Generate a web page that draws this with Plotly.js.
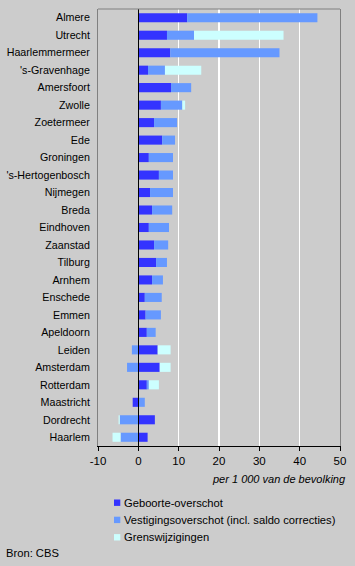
<!DOCTYPE html>
<html>
<head>
<meta charset="utf-8">
<script src="https://cdn.plot.ly/plotly-3.0.1.min.js"></script>
<style>
html,body{margin:0;padding:0;background:#cccccc;}
#chart{width:355px;height:566px;}
</style>
</head>
<body>
<div id="chart"></div>
<script>
const gemeenten = ["Almere","Utrecht","Haarlemmermeer","'s-Gravenhage","Amersfoort","Zwolle","Zoetermeer","Ede","Groningen","'s-Hertogenbosch","Nijmegen","Breda","Eindhoven","Zaanstad","Tilburg","Arnhem","Enschede","Emmen","Apeldoorn","Leiden","Amsterdam","Rotterdam","Maastricht","Dordrecht","Haarlem"];
const geboorteOverschot = [12.1,7.1,7.9,2.4,8.1,5.6,3.9,5.9,2.6,5.1,2.9,3.4,2.6,3.9,4.4,3.4,1.6,1.8,2.1,4.8,5.3,2.1,-1.4,4.1,2.3];
const vestigingsOverschot = [32.3,6.7,27.1,4.2,5.0,5.3,5.7,3.2,6.0,3.5,5.7,5.0,5.0,3.5,2.7,2.7,4.2,3.8,2.2,-1.6,-2.8,0.5,1.6,-4.6,-4.4];
const grensWijzigingen = [0,22.2,0,9.0,0,0.7,0,0,0,0,0,0,0,0,0,0,0,0,0,3.2,2.7,2.5,0,-0.3,-2.0];
const seriesNames = ["Geboorte-overschot","Vestigingsoverschot (incl. saldo correcties)","Grenswijzigingen"];
const seriesColors = ["#3333ff","#6699ff","#ccffff"];
const xTicks = [-10,0,10,20,30,40,50];

const W=355,H=566, L=98, R=340, T=9, B=446;
const px = x => (x-L)/(R-L);
const py = y => (B-y)/(B-T);
const font = {family:"Liberation Sans, Arial, sans-serif", size:10.5, color:"#000"};
const legFont = {...font, size:11.2};

const seriesValues=[geboorteOverschot,vestigingsOverschot,grensWijzigingen];
const data=seriesValues.map((vals,i)=>({type:"bar",orientation:"h",y:gemeenten,x:vals,
    name:seriesNames[i],marker:{color:seriesColors[i],line:{width:0}},hoverinfo:"x+y+name",showlegend:false}));

// legend (drawn as swatches + text)
const legRows=[502.7,519.9,537.3];
const shapes=[{type:"line",xref:"paper",yref:"paper",x0:0,x1:1,y0:1,y1:1,line:{color:"#808080",width:1}}];
const annotations=[
  {xref:"paper",yref:"paper",x:px(347.5),y:py(479),xanchor:"right",yanchor:"middle",
   text:"<i>per 1 000 van de bevolking</i>",showarrow:false,font:{...font,size:11}},
  {xref:"paper",yref:"paper",x:px(4),y:py(553),xanchor:"left",yanchor:"middle",
   text:"Bron: CBS",showarrow:false,font:legFont}
];
seriesNames.forEach((n,i)=>{
  const yc=legRows[i];
  shapes.push({type:"rect",xref:"paper",yref:"paper",x0:px(114),x1:px(120.3),y0:py(yc-3.2),y1:py(yc+3.2),
    fillcolor:seriesColors[i],line:{width:0}});
  annotations.push({xref:"paper",yref:"paper",x:px(122),y:py(yc),xanchor:"left",yanchor:"middle",
    text:n,showarrow:false,font:legFont});
});

const layout={
  width:W,height:H,
  paper_bgcolor:"#cccccc",plot_bgcolor:"#cccccc",
  font:font,
  margin:{l:L,r:W-R,t:T,b:H-B,pad:0},
  barmode:"relative",bargap:0.48,
  showlegend:false,
  xaxis:{range:[-10,50],tickvals:xTicks,ticktext:xTicks.map(String),
    showgrid:true,gridcolor:"#ffffff",gridwidth:1.5,
    zeroline:true,zerolinecolor:"#000",zerolinewidth:1.5,zerolinelayer:"above traces",
    showline:true,linecolor:"#000",linewidth:1,
    ticks:"outside",ticklen:4,tickcolor:"#000",tickfont:{...font,size:11.5},fixedrange:true},
  yaxis:{type:"category",autorange:"reversed",showgrid:false,zeroline:false,
    showline:true,linecolor:"#808080",linewidth:1,mirror:true,
    ticks:"",ticklabelstandoff:5,tickfont:{...font,size:10.7},fixedrange:true},
  shapes:shapes,
  annotations:annotations
};
Plotly.newPlot("chart",data,layout,{displayModeBar:false,staticPlot:true});
</script>
</body>
</html>
